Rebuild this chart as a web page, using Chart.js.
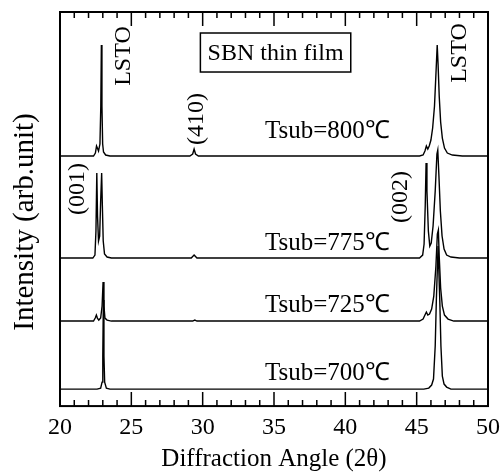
<!DOCTYPE html>
<html><head><meta charset="utf-8">
<script src="https://cdn.jsdelivr.net/npm/chart.js@4/dist/chart.umd.min.js"></script>
<style>html,body{margin:0;padding:0;background:#fff}</style>
</head><body>
<canvas id="c" width="500" height="476"></canvas>
<script>
// ---- data (2θ, intensity in arbitrary offset units) ----
const xTickValues = [20, 25, 30, 35, 40, 45, 50];
const minorTickStep = 1;
const seriesLabels = ['Tsub=800℃', 'Tsub=775℃', 'Tsub=725℃', 'Tsub=700℃'];
const peakLabels = ['LSTO', '(410)', 'LSTO', '(001)', '(002)'];
const boxLabel = 'SBN thin film';
const xTitle = 'Diffraction Angle (2θ)';
const yTitle = 'Intensity (arb.unit)';

const trace800 = [
  [20,250],[22.35,250],[22.48,253],[22.56,260],[22.62,258],[22.7,255],[22.8,262],[22.86,300],[22.9,361],[22.94,300],[22.99,262],[23.05,254],[23.2,251],[23.5,250],
  [29.1,250],[29.3,252],[29.4,257],[29.5,252],[29.7,250],
  [45.2,250],[45.45,251],[45.58,255],[45.68,260],[45.78,257],[45.88,260],[46.0,266],[46.12,278],[46.25,300],[46.36,335],[46.44,361],[46.5,342],[46.58,310],[46.68,284],[46.8,268],[46.95,258],[47.15,253],[47.5,251],[48.2,250],[50,250]
];
const trace775 = [
  [20,148],[22.3,148],[22.45,151],[22.52,175],[22.58,233],[22.63,190],[22.7,165],[22.78,170],[22.85,205],[22.92,233],[22.97,200],[23.03,165],[23.12,152],[23.3,149],[23.6,148],
  [29.2,148],[29.4,151],[29.6,148],
  [45.2,148],[45.42,151],[45.52,162],[45.6,200],[45.66,243],[45.72,215],[45.82,175],[45.92,160],[46.02,163],[46.15,180],[46.3,215],[46.42,252],[46.48,256],[46.56,230],[46.66,195],[46.78,170],[46.92,157],[47.1,151],[47.4,149],[48,148],[50,148]
];
const trace725 = [
  [20,85],[22.35,85],[22.47,88],[22.55,91],[22.62,88],[22.72,86],[22.85,88],[22.95,100],[23.02,124],[23.08,100],[23.15,88],[23.3,86],[23.6,85],
  [29.3,85],[29.45,86],[29.6,85],
  [45.2,85],[45.45,87],[45.58,91],[45.68,94],[45.78,91],[45.9,92],[46.05,97],[46.2,110],[46.35,140],[46.45,172],[46.52,176],[46.58,150],[46.68,118],[46.8,100],[46.95,91],[47.2,87],[47.6,85],[50,85]
];
const trace700 = [
  [20,17],[22.6,17],[22.85,18],[22.95,24],[23.0,50],[23.04,106],[23.08,50],[23.13,24],[23.25,18],[23.5,17],
  [45.5,17],[45.85,18],[46.05,21],[46.18,27],[46.3,60],[46.38,106],[46.5,160],[46.62,106],[46.7,60],[46.8,30],[46.92,22],[47.1,19],[47.4,17],[50,17]
];
const traces = [trace800, trace775, trace725, trace700];

// ---- annotation placement (data coordinates) ----
const SERIF = '"Liberation Serif", "Times New Roman", serif';
const seriesLabelPos = [[34.37,268],[34.37,156],[34.37,94],[34.37,26]];
const peakLabelPos = [[24.47,350],[29.56,287],[48.05,353],[21.26,217],[43.86,209]];
const boxRange = {x0:29.84, x1:40.38, y0:373, y1:334};

const framePlugin = {
  id: 'frame',
  afterDraw(chart) {
    const {ctx, chartArea: a, scales: {x, y}} = chart;
    ctx.save();
    ctx.strokeStyle = '#000';
    ctx.lineWidth = 2;
    ctx.strokeRect(a.left, a.top, a.right - a.left, a.bottom - a.top);
    ctx.lineWidth = 1.5;
    for (let v = x.min; v <= x.max + 1e-9; v += minorTickStep) {
      const px = x.getPixelForValue(v);
      const len = xTickValues.includes(Math.round(v)) ? 14 : 6;
      ctx.beginPath();
      ctx.moveTo(px, a.bottom); ctx.lineTo(px, a.bottom - len);
      ctx.moveTo(px, a.top); ctx.lineTo(px, a.top + len);
      ctx.stroke();
    }
    ctx.fillStyle = '#000';
    // y axis title
    ctx.save();
    ctx.font = '29px ' + SERIF;
    ctx.translate(33, (a.top + a.bottom) / 2 + 13);
    ctx.rotate(-Math.PI / 2);
    ctx.textAlign = 'center'; ctx.textBaseline = 'alphabetic';
    ctx.fillText(yTitle, 0, 0);
    ctx.restore();
    // series labels
    ctx.font = '25px ' + SERIF;
    ctx.textAlign = 'left'; ctx.textBaseline = 'alphabetic';
    seriesLabels.forEach((t, i) => {
      ctx.fillText(t, x.getPixelForValue(seriesLabelPos[i][0]), y.getPixelForValue(seriesLabelPos[i][1]));
    });
    ctx.font = '24px ' + SERIF;
    ctx.textAlign = 'center'; ctx.textBaseline = 'middle';
    peakLabels.forEach((t, i) => {
      ctx.save();
      ctx.translate(x.getPixelForValue(peakLabelPos[i][0]), y.getPixelForValue(peakLabelPos[i][1]));
      ctx.rotate(-Math.PI / 2);
      ctx.fillText(t, 0, 0);
      ctx.restore();
    });
    const bx0 = x.getPixelForValue(boxRange.x0), bx1 = x.getPixelForValue(boxRange.x1);
    const by0 = y.getPixelForValue(boxRange.y0), by1 = y.getPixelForValue(boxRange.y1);
    ctx.lineWidth = 1.5;
    ctx.strokeRect(bx0, by0, bx1 - bx0, by1 - by0);
    ctx.font = '24px ' + SERIF;
    ctx.fillText(boxLabel, (bx0 + bx1) / 2, (by0 + by1) / 2 + 1);
    ctx.restore();
  }
};

new Chart(document.getElementById('c'), {
  type: 'scatter',
  data: {
    datasets: traces.map((d, i) => ({
      label: seriesLabels[i],
      data: d.map(p => ({x: p[0], y: p[1]})),
      showLine: true, borderColor: '#000', backgroundColor: '#000',
      borderWidth: 1.4, pointRadius: 0, tension: 0, fill: false
    }))
  },
  options: {
    responsive: false, animation: false, devicePixelRatio: 1,
    layout: {padding: {left: 60, right: 0, top: 12, bottom: 0}},
    plugins: {legend: {display: false}, tooltip: {enabled: false}},
    scales: {
      x: {
        type: 'linear', min: 20, max: 50, position: 'bottom',
        grid: {display: false, drawTicks: false}, border: {display: false},
        ticks: {stepSize: 5, padding: 0, color: '#000', maxRotation: 0, autoSkip: false,
                font: {family: SERIF, size: 24, lineHeight: 1.83}},
        title: {display: true, text: xTitle, color: '#000',
                font: {family: SERIF, size: 25}, padding: {top: -6, bottom: 2}}
      },
      y: {
        type: 'linear', min: 0, max: 394, display: false
      }
    }
  },
  plugins: [framePlugin]
});
</script>
</body></html>
